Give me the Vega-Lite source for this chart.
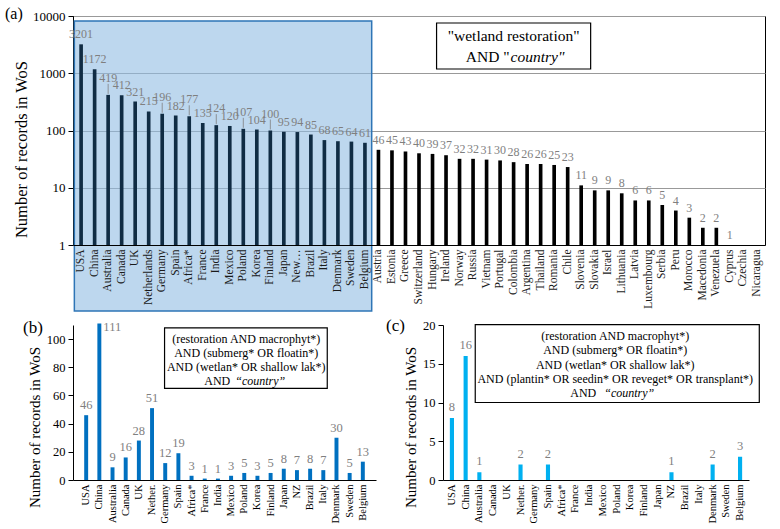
{
  "$schema": "https://vega.github.io/schema/vega-lite/v6.json",
  "background": "white",
  "padding": {"left": 4, "top": 5, "right": 4, "bottom": 2},
  "config": {
    "font": "Liberation Serif",
    "view": {"stroke": null},
    "axis": {"labelFont": "Liberation Serif", "titleFont": "Liberation Serif", "titleFontWeight": "normal", "labelColor": "#000", "titleColor": "#000", "domainColor": "#000", "tickColor": "#000", "grid": false},
    "axisY": {"labelOverlap": false},
    "title": {"font": "Liberation Serif", "fontWeight": "normal", "color": "#000"}
  },
  "datasets": {
    "a": [
      {"country": "USA", "value": 3201}, {"country": "China", "value": 1172}, {"country": "Australia", "value": 419},
      {"country": "Canada", "value": 412}, {"country": "UK", "value": 321}, {"country": "Netherlands", "value": 215},
      {"country": "Germany", "value": 196}, {"country": "Spain", "value": 182}, {"country": "Africa*", "value": 177},
      {"country": "France", "value": 135}, {"country": "India", "value": 124}, {"country": "Mexico", "value": 120},
      {"country": "Poland", "value": 107}, {"country": "Korea", "value": 104}, {"country": "Finland", "value": 100},
      {"country": "Japan", "value": 95}, {"country": "New…", "value": 94}, {"country": "Brazil", "value": 85},
      {"country": "Italy", "value": 68}, {"country": "Denmark", "value": 65}, {"country": "Sweden", "value": 64},
      {"country": "Belgium", "value": 61}, {"country": "Austria", "value": 46}, {"country": "Estonia", "value": 45},
      {"country": "Greece", "value": 43}, {"country": "Switzerland", "value": 40}, {"country": "Hungary", "value": 39},
      {"country": "Ireland", "value": 37}, {"country": "Norway", "value": 32}, {"country": "Russia", "value": 32},
      {"country": "Vietnam", "value": 31}, {"country": "Portugal", "value": 30}, {"country": "Colombia", "value": 28},
      {"country": "Argentina", "value": 26}, {"country": "Thailand", "value": 26}, {"country": "Romania", "value": 25},
      {"country": "Chile", "value": 23}, {"country": "Slovenia", "value": 11}, {"country": "Slovakia", "value": 9},
      {"country": "Israel", "value": 9}, {"country": "Lithuania", "value": 8}, {"country": "Latvia", "value": 6},
      {"country": "Luxembourg", "value": 6}, {"country": "Serbia", "value": 5}, {"country": "Peru", "value": 4},
      {"country": "Morocco", "value": 3}, {"country": "Macedonia", "value": 2}, {"country": "Venezuela", "value": 2},
      {"country": "Cyprus", "value": 1}, {"country": "Czechia", "value": 0}, {"country": "Nicaragua", "value": 0}
    ],
    "b": [
      {"country": "USA", "value": 46}, {"country": "China", "value": 111}, {"country": "Australia", "value": 9},
      {"country": "Canada", "value": 16}, {"country": "UK", "value": 28}, {"country": "Nether.", "value": 51},
      {"country": "Germany", "value": 12}, {"country": "Spain", "value": 19}, {"country": "Africa*", "value": 3},
      {"country": "France", "value": 1}, {"country": "India", "value": 1}, {"country": "Mexico", "value": 3},
      {"country": "Poland", "value": 5}, {"country": "Korea", "value": 3}, {"country": "Finland", "value": 5},
      {"country": "Japan", "value": 8}, {"country": "NZ", "value": 7}, {"country": "Brazil", "value": 8},
      {"country": "Italy", "value": 7}, {"country": "Denmark", "value": 30}, {"country": "Sweden", "value": 5},
      {"country": "Belgium", "value": 13}
    ],
    "c": [
      {"country": "USA", "value": 8}, {"country": "China", "value": 16}, {"country": "Australia", "value": 1},
      {"country": "Canada", "value": 0}, {"country": "UK", "value": 0}, {"country": "Nether.", "value": 2},
      {"country": "Germany", "value": 0}, {"country": "Spain", "value": 2}, {"country": "Africa*", "value": 0},
      {"country": "France", "value": 0}, {"country": "India", "value": 0}, {"country": "Mexico", "value": 0},
      {"country": "Poland", "value": 0}, {"country": "Korea", "value": 0}, {"country": "Finland", "value": 0},
      {"country": "Japan", "value": 0}, {"country": "NZ", "value": 1}, {"country": "Brazil", "value": 0},
      {"country": "Italy", "value": 0}, {"country": "Denmark", "value": 2}, {"country": "Sweden", "value": 0},
      {"country": "Belgium", "value": 3}
    ]
  },
  "spacing": 4,
  "vconcat": [
    {
      "width": 692,
      "height": 229,
      "view": {"stroke": "#000"},
      "title": {"text": "(a)", "anchor": "start", "frame": "group", "fontSize": 16, "dx": -68, "offset": -12},
      "layer": [
        {
          "data": {"values": [{}]},
          "mark": {"type": "rect", "fill": "#91bce3", "fillOpacity": 0.6, "stroke": "#2e75b6", "strokeWidth": 1.5},
          "encoding": {
            "x": {"datum": "USA", "type": "nominal", "bandPosition": 0},
            "x2": {"datum": "Belgium", "bandPosition": 1},
            "y": {"datum": 8200, "type": "quantitative"},
            "y2": {"datum": 0.07}
          }
        },
        {
          "data": {"name": "a"},
          "transform": [{"filter": "datum.value > 0"}],
          "mark": {"type": "bar", "width": {"band": 0.27}},
          "encoding": {
            "x": {
              "field": "country", "type": "nominal",
              "scale": {"domain": ["USA","China","Australia","Canada","UK","Netherlands","Germany","Spain","Africa*","France","India","Mexico","Poland","Korea","Finland","Japan","New…","Brazil","Italy","Denmark","Sweden","Belgium","Austria","Estonia","Greece","Switzerland","Hungary","Ireland","Norway","Russia","Vietnam","Portugal","Colombia","Argentina","Thailand","Romania","Chile","Slovenia","Slovakia","Israel","Lithuania","Latvia","Luxembourg","Serbia","Peru","Morocco","Macedonia","Venezuela","Cyprus","Czechia","Nicaragua"], "paddingInner": 0, "paddingOuter": 0.1},
              "axis": {"title": null, "labelAngle": -90, "ticks": false, "labelPadding": 4, "labelFontSize": 11.5, "labelColor": "#1a1a1a", "zindex": 1}
            },
            "y": {
              "field": "value", "type": "quantitative",
              "scale": {"type": "log", "domain": [1, 10000], "nice": false},
              "axis": {"title": "Number of records in WoS", "titleFontSize": 16.5, "titlePadding": 3, "titleY": 133, "values": [1, 10, 100, 1000, 10000], "format": "d", "grid": true, "gridColor": "#999999", "labelFontSize": 13, "tickSize": 5, "labelPadding": 3, "labelOverlap": false}
            },
            "y2": {"datum": 1},
            "color": {"condition": {"test": "datum.value >= 61", "value": "#102c44"}, "value": "#000000"}
          }
        },
        {
          "data": {"name": "a"},
          "transform": [{"filter": {"field": "country", "oneOf": ["Australia", "Germany", "Africa*", "India", "Poland", "Finland"]}}],
          "mark": {"type": "rule", "color": "#7f7f7f", "strokeWidth": 0.8, "yOffset": -1, "y2Offset": -11},
          "encoding": {
            "x": {"field": "country", "type": "nominal"},
            "y": {"field": "value", "type": "quantitative"},
            "y2": {"field": "value"}
          }
        },
        {
          "data": {"name": "a"},
          "transform": [{"filter": "datum.value > 0 && indexof(['Australia','Germany','Africa*','India','Poland','Finland'], datum.country) < 0"}],
          "mark": {"type": "text", "dy": -10, "fontSize": 12, "color": "#7f7f7f"},
          "encoding": {
            "x": {"field": "country", "type": "nominal"},
            "y": {"field": "value", "type": "quantitative"},
            "text": {"field": "value", "type": "quantitative"}
          }
        },
        {
          "data": {"name": "a"},
          "transform": [{"filter": {"field": "country", "oneOf": ["Australia", "Germany", "Africa*", "India", "Poland", "Finland"]}}],
          "mark": {"type": "text", "dy": -17, "fontSize": 12, "color": "#7f7f7f"},
          "encoding": {
            "x": {"field": "country", "type": "nominal"},
            "y": {"field": "value", "type": "quantitative"},
            "text": {"field": "value", "type": "quantitative"}
          }
        },
        {
          "data": {"values": [{}]},
          "mark": {"type": "rect", "fill": "white", "stroke": "#000", "strokeWidth": 1.2},
          "encoding": {
            "x": {"datum": "Hungary", "type": "nominal", "bandPosition": 0.8},
            "x2": {"datum": "Slovakia", "bandPosition": 0.2},
            "y": {"datum": 7550, "type": "quantitative"},
            "y2": {"datum": 1186}
          }
        },
        {
          "data": {"values": [{}]},
          "mark": {"type": "text", "text": "\"wetland restoration\"", "fontSize": 15.5, "align": "center"},
          "encoding": {
            "x": {"datum": "Colombia", "type": "nominal"},
            "y": {"datum": 4470, "type": "quantitative"}
          }
        },
        {
          "data": {"values": [{}]},
          "mark": {"type": "text", "text": "AND \"", "fontSize": 15.5, "align": "right", "dx": -4},
          "encoding": {
            "x": {"datum": "Colombia", "type": "nominal"},
            "y": {"datum": 1923, "type": "quantitative"}
          }
        },
        {
          "data": {"values": [{}]},
          "mark": {"type": "text", "text": "country\"", "fontSize": 15.5, "fontStyle": "italic", "align": "left", "dx": -3},
          "encoding": {
            "x": {"datum": "Colombia", "type": "nominal"},
            "y": {"datum": 1923, "type": "quantitative"}
          }
        }
      ]
    },
    {
      "spacing": 10,
      "hconcat": [
        {
          "width": 303,
          "height": 155,
          "title": {"text": "(b)", "anchor": "start", "frame": "group", "fontSize": 17, "dx": -50, "offset": -16},
          "layer": [
            {
              "data": {"name": "b"},
              "mark": {"type": "bar", "width": {"band": 0.3}, "color": "#0070c0"},
              "encoding": {
                "x": {
                  "field": "country", "type": "nominal",
                  "scale": {"domain": ["USA","China","Australia","Canada","UK","Nether.","Germany","Spain","Africa*","France","India","Mexico","Poland","Korea","Finland","Japan","NZ","Brazil","Italy","Denmark","Sweden","Belgium"], "paddingInner": 0, "paddingOuter": 0.5},
                  "axis": {"title": null, "labelAngle": -90, "ticks": false, "labelPadding": 4, "labelFontSize": 10.5}
                },
                "y": {
                  "field": "value", "type": "quantitative",
                  "scale": {"domain": [0, 110], "nice": false},
                  "axis": {"title": "Number of records in WoS", "titleFontSize": 15, "titlePadding": 4, "titleY": 102, "tickCount": 6, "labelFontSize": 12.5, "tickSize": 5, "labelPadding": 3, "labelOverlap": false}
                }
              }
            },
            {
              "data": {"name": "b"},
              "transform": [{"filter": "datum.value > 0 && datum.value < 100"}],
              "mark": {"type": "text", "dy": -10, "fontSize": 12.5, "color": "#7f7f7f"},
              "encoding": {
                "x": {"field": "country", "type": "nominal"},
                "y": {"field": "value", "type": "quantitative"},
                "text": {"field": "value", "type": "quantitative"}
              }
            },
            {
              "data": {"name": "b"},
              "transform": [{"filter": "datum.value >= 100"}],
              "mark": {"type": "text", "dx": 4, "dy": 3, "align": "left", "fontSize": 12.5, "color": "#7f7f7f"},
              "encoding": {
                "x": {"field": "country", "type": "nominal"},
                "y": {"field": "value", "type": "quantitative"},
                "text": {"field": "value", "type": "quantitative"}
              }
            },
            {
              "data": {"values": [{}]},
              "mark": {"type": "rect", "fill": "white", "stroke": "#000", "strokeWidth": 1.2},
              "encoding": {
                "x": {"datum": "Germany", "type": "nominal", "bandPosition": 0.45},
                "x2": {"datum": "Italy", "bandPosition": 0.8},
                "y": {"datum": 108, "type": "quantitative"},
                "y2": {"datum": 65}
              }
            },
            {
              "data": {"values": [{"t": "(restoration AND macrophyt*)", "v": 100}, {"t": "AND (submerg* OR floatin*)", "v": 90}, {"t": "AND (wetlan* OR shallow lak*)", "v": 80}]},
              "mark": {"type": "text", "fontSize": 12, "align": "center"},
              "encoding": {
                "x": {"datum": "Poland", "type": "nominal", "bandPosition": 0.65},
                "y": {"field": "v", "type": "quantitative"},
                "text": {"field": "t"}
              }
            },
            {
              "data": {"values": [{}]},
              "mark": {"type": "text", "text": "AND", "fontSize": 12, "align": "right", "dx": -16},
              "encoding": {
                "x": {"datum": "Poland", "type": "nominal", "bandPosition": 0.65},
                "y": {"datum": 70, "type": "quantitative"}
              }
            },
            {
              "data": {"values": [{}]},
              "mark": {"type": "text", "text": "“country”", "fontSize": 12, "fontStyle": "italic", "align": "left", "dx": -11},
              "encoding": {
                "x": {"datum": "Poland", "type": "nominal", "bandPosition": 0.65},
                "y": {"datum": 70, "type": "quantitative"}
              }
            }
          ]
        },
        {
          "width": 306,
          "height": 155,
          "title": {"text": "(c)", "anchor": "start", "frame": "group", "fontSize": 17, "dx": -57, "offset": -16},
          "layer": [
            {
              "data": {"name": "c"},
              "mark": {"type": "bar", "width": {"band": 0.3}, "color": "#00b0f0"},
              "encoding": {
                "x": {
                  "field": "country", "type": "nominal",
                  "scale": {"domain": ["USA","China","Australia","Canada","UK","Nether.","Germany","Spain","Africa*","France","India","Mexico","Poland","Korea","Finland","Japan","NZ","Brazil","Italy","Denmark","Sweden","Belgium"], "paddingInner": 0, "paddingOuter": 0.15},
                  "axis": {"title": null, "labelAngle": -90, "ticks": false, "labelPadding": 4, "labelFontSize": 10.5}
                },
                "y": {
                  "field": "value", "type": "quantitative",
                  "scale": {"domain": [0, 20], "nice": false},
                  "axis": {"title": "Number of records in WoS", "titleFontSize": 15, "titlePadding": 4, "titleY": 102, "tickCount": 4, "labelFontSize": 12.5, "tickSize": 5, "labelPadding": 3, "labelOverlap": false}
                }
              }
            },
            {
              "data": {"name": "c"},
              "transform": [{"filter": "datum.value > 0"}],
              "mark": {"type": "text", "dy": -11, "fontSize": 12.5, "color": "#7f7f7f"},
              "encoding": {
                "x": {"field": "country", "type": "nominal"},
                "y": {"field": "value", "type": "quantitative"},
                "text": {"field": "value", "type": "quantitative"}
              }
            },
            {
              "data": {"values": [{}]},
              "mark": {"type": "rect", "fill": "white", "stroke": "#000", "strokeWidth": 1.2},
              "encoding": {
                "x": {"datum": "Australia", "type": "nominal", "bandPosition": 0.2},
                "x2": {"datum": "Belgium", "bandPosition": 1.9},
                "y": {"datum": 20.05, "type": "quantitative"},
                "y2": {"datum": 10}
              }
            },
            {
              "data": {"values": [{"t": "(restoration AND macrophyt*)", "v": 18.6}, {"t": "AND (submerg* OR floatin*)", "v": 16.75}, {"t": "AND (wetlan* OR shallow lak*)", "v": 14.9}, {"t": "AND (plantin* OR seedin* OR reveget* OR transplant*)", "v": 13.05}]},
              "mark": {"type": "text", "fontSize": 12, "align": "center"},
              "encoding": {
                "x": {"datum": "Poland", "type": "nominal", "bandPosition": 0.4},
                "y": {"field": "v", "type": "quantitative"},
                "text": {"field": "t"}
              }
            },
            {
              "data": {"values": [{}]},
              "mark": {"type": "text", "text": "AND", "fontSize": 12, "align": "right", "dx": -19},
              "encoding": {
                "x": {"datum": "Poland", "type": "nominal", "bandPosition": 0.4},
                "y": {"datum": 11.2, "type": "quantitative"}
              }
            },
            {
              "data": {"values": [{}]},
              "mark": {"type": "text", "text": "“country”", "fontSize": 12, "fontStyle": "italic", "align": "left", "dx": -11},
              "encoding": {
                "x": {"datum": "Poland", "type": "nominal", "bandPosition": 0.4},
                "y": {"datum": 11.2, "type": "quantitative"}
              }
            }
          ]
        }
      ]
    }
  ]
}
